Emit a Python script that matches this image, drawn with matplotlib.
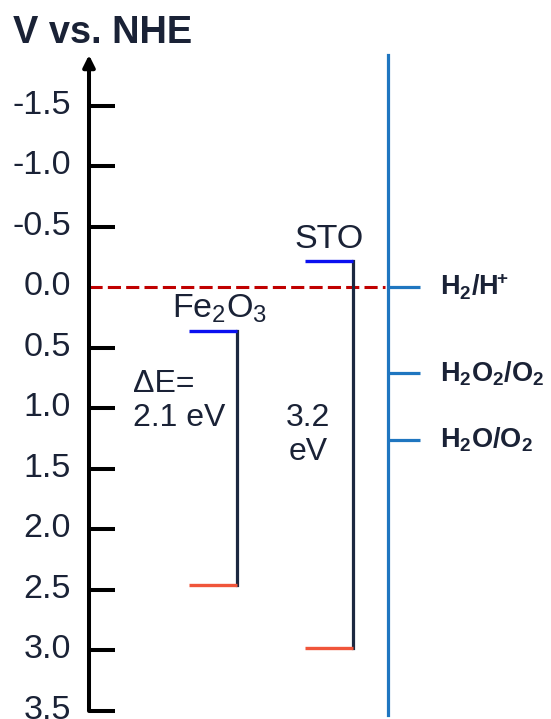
import matplotlib
matplotlib.use("Agg")
import matplotlib.pyplot as plt
from matplotlib.ticker import FixedLocator, FixedFormatter
from matplotlib.transforms import ScaledTranslation

plt.rcParams['font.family'] = ['Liberation Sans', 'DejaVu Sans']
plt.rcParams['mathtext.fontset'] = 'custom'
plt.rcParams['mathtext.rm'] = 'Liberation Sans'
plt.rcParams['mathtext.bf'] = 'Liberation Sans:bold'

# band edges (V vs. NHE)
materials = [r'$\mathrm{Fe_2O_3}$', 'STO']
cb_edges = [0.36, -0.22]
band_gaps = [2.1, 3.2]
gap_labels = ['\u0394E=\n2.1 eV', '3.2\neV']

# redox couples on the right-hand scale
redox_labels = [r'$\mathbf{H_2/H^{\!\!+}}$', r'$\mathbf{H_2O_2/O_2}$', r'$\mathbf{H_2O/O_2}$']
redox_potentials = [0.0, 0.71, 1.26]

tick_values = [-1.5, -1.0, -0.5, 0.0, 0.5, 1.0, 1.5, 2.0, 2.5, 3.0, 3.5]
tick_labels = ['-1.5', '-1.0', '-0.5', '0.0', '0.5', '1.0', '1.5', '2.0', '2.5', '3.0', '3.5']

# layout (x in pixels from the potential axis)
band_left = [100, 216]
band_width = 48
name_dx = [7, 0]
gap_text_pos = [(44, 0.94, 'left'), (219, 1.22, 'center')]
scale_x = 299
tick_len = 32
label_x = 351

TEXT = '#1a2236'
Y_TOP = -1.92
Y_BOTTOM = 3.5

fig = plt.figure(figsize=(5.51, 7.19), dpi=100)
ax = fig.add_axes([89 / 551, 8 / 719, 462 / 551, 656 / 719])
ax.set_xlim(0, 462)
ax.set_ylim(Y_BOTTOM, Y_TOP)

for s in ax.spines.values():
    s.set_visible(False)
ax.set_xticks([])
ax.yaxis.set_major_locator(FixedLocator(tick_values))
ax.yaxis.set_major_formatter(FixedFormatter(tick_labels))
ax.tick_params(axis='y', direction='in', length=19, width=2.9, pad=13,
               labelsize=24.5, labelcolor=TEXT, color='black')

# labels sit slightly above their ticks; no tick mark at 0.0 (dashed line starts there)
lift = ScaledTranslation(0, 4 / 100, fig.dpi_scale_trans)
for lbl in ax.get_yticklabels():
    lbl.set_transform(lbl.get_transform() + lift)
ax.yaxis.get_major_ticks()[tick_values.index(0.0)].tick1line.set_visible(False)

# potential axis with arrow
ax.annotate('', xy=(0, Y_TOP), xytext=(0, Y_BOTTOM), annotation_clip=False,
            arrowprops=dict(arrowstyle='-|>,head_length=0.7,head_width=0.35',
                            lw=2.9, color='black', shrinkA=0, shrinkB=0))

fig.text(13 / 551, 1 - 43 / 719, 'V vs. NHE', fontsize=27.4, fontweight='bold',
         color=TEXT, ha='left', va='baseline')

# hydrogen reference level
ax.plot([0, 296], [0, 0], color='#c00000', lw=2.2, dashes=[4.3, 1.7], zorder=1)

for i, name in enumerate(materials):
    x0 = band_left[i]
    x1 = x0 + band_width
    cb = cb_edges[i]
    vb = cb + band_gaps[i]
    ax.plot([x1, x1], [cb, vb], color='#1c2840', lw=2.3, zorder=2)
    ax.plot([x0, x1], [cb, cb], color='#0a10f0', lw=2.4, zorder=3, solid_capstyle='butt')
    ax.plot([x0, x1], [vb, vb], color='#f0553a', lw=2.4, zorder=3, solid_capstyle='butt')
    ax.annotate(name, xy=((x0 + x1) / 2 + name_dx[i], cb), xytext=(0, 4),
                textcoords='offset points', ha='center', va='bottom',
                fontsize=24.5, color=TEXT)
    gx, gy, ha = gap_text_pos[i]
    ax.text(gx, gy, gap_labels[i], ha=ha, va='center', multialignment=ha,
            fontsize=23, color=TEXT, linespacing=1.15)

# redox scale
ax.plot([scale_x, scale_x], [Y_TOP, 3.53], color='#1f76c0', lw=2.3,
        clip_on=False, zorder=2)
for lab, pot in zip(redox_labels, redox_potentials):
    ax.plot([scale_x, scale_x + tick_len], [pot, pot], color='#1f76c0', lw=2.3,
            solid_capstyle='butt')
    ax.text(label_x, pot, lab, ha='left', va='center', fontsize=19.5, color=TEXT)

fig.savefig('out.png', dpi=100)
